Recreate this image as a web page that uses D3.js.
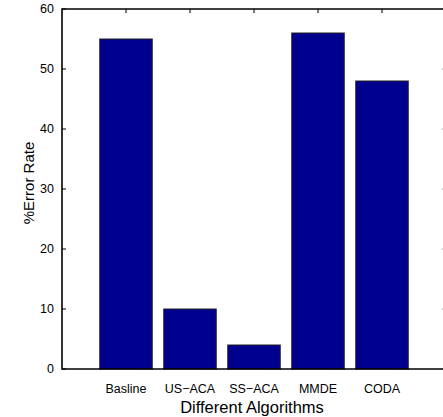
<!DOCTYPE html>
<html>
<head>
<meta charset="UTF-8">
<title>Error Rate</title>
<script src="https://cdn.jsdelivr.net/npm/d3@7"></script>
<style>
  body { margin: 0; background: #fff; }
  text { font-family: "Liberation Sans", Arial, sans-serif; fill: #000; }
</style>
</head>
<body>
<script>
var categories = ["Basline", "US\u2212ACA", "SS\u2212ACA", "MMDE", "CODA"];
var errorRates = [55, 10, 4, 56, 48];
var yTicks = [0, 10, 20, 30, 40, 50, 60];

var width = 443, height = 417;
var margin = {left: 62, top: 9, right: -3, bottom: 48};
var plotW = width - margin.left - margin.right,
    plotH = height - margin.top - margin.bottom;

var svg = d3.select("body").append("svg")
    .attr("width", width)
    .attr("height", height);

// matlab style: positions 1..5 in range [0, 6]
var x = d3.scaleLinear().domain([0, categories.length + 1]).range([0, plotW]);
var y = d3.scaleLinear().domain([0, 60]).range([plotH, 0]);
var barW = (x(1) - x(0)) * 0.82;

var g = svg.append("g").attr("transform", "translate(" + margin.left + "," + margin.top + ")");

// bars
g.selectAll("rect.bar").data(errorRates).enter()
    .append("rect")
    .attr("class", "bar")
    .attr("x", function(d, i) { return x(i + 1) - barW / 2; })
    .attr("y", function(d) { return y(d); })
    .attr("width", barW)
    .attr("height", function(d) { return plotH - y(d); })
    .style("fill", "#00008f")
    .style("stroke", "#222")
    .style("stroke-width", 1);

// ticks (inward), left and right
var tickLen = 4;
var ticksG = g.append("g").style("stroke", "#000").style("stroke-width", 1);
ticksG.selectAll("line.yl").data(yTicks).enter().append("line")
    .attr("x1", 0).attr("x2", tickLen)
    .attr("y1", function(d) { return y(d); }).attr("y2", function(d) { return y(d); });
ticksG.selectAll("line.yr").data(yTicks).enter().append("line")
    .attr("x1", plotW).attr("x2", plotW - tickLen)
    .attr("y1", function(d) { return y(d); }).attr("y2", function(d) { return y(d); })
    .style("stroke", "#999");
ticksG.selectAll("line.xt").data(categories).enter().append("line")
    .attr("x1", function(d, i) { return x(i + 1); }).attr("x2", function(d, i) { return x(i + 1); })
    .attr("y1", 0).attr("y2", tickLen);

// axes box
g.append("path")
    .attr("d", "M" + plotW + ",0H0V" + plotH + "H" + plotW)
    .style("fill", "none")
    .style("stroke", "#000")
    .style("stroke-width", 1.6);

// y tick labels
g.selectAll("text.yl").data(yTicks).enter().append("text")
    .attr("x", -8)
    .attr("y", function(d) { return y(d); })
    .attr("dy", "0.35em")
    .attr("text-anchor", "end")
    .style("font-size", "12.5px")
    .text(function(d) { return d; });

// x tick labels
g.selectAll("text.xl").data(categories).enter().append("text")
    .attr("x", function(d, i) { return x(i + 1); })
    .attr("y", plotH + 24)
    .attr("text-anchor", "middle")
    .style("font-size", "12.5px")
    .text(function(d) { return d; });

// axis titles
g.append("text")
    .attr("x", x(3) - 2)
    .attr("y", plotH + 44)
    .attr("text-anchor", "middle")
    .style("font-size", "16.5px")
    .text("Different Algorithms");

g.append("text")
    .attr("transform", "translate(" + (-28) + "," + (y(30) - 6) + ") rotate(-90)")
    .attr("text-anchor", "middle")
    .style("font-size", "15px")
    .text("%Error Rate");
</script>
</body>
</html>
